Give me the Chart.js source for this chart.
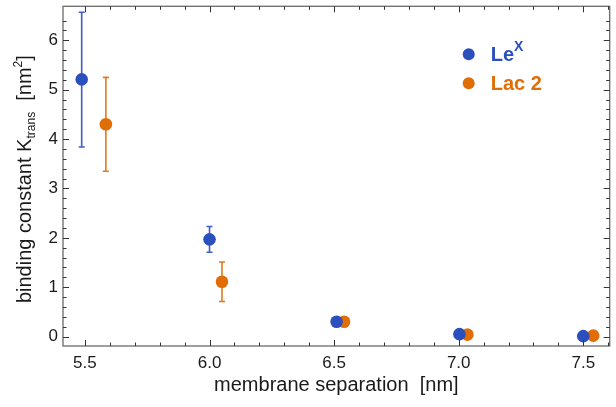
<!DOCTYPE html>
<html>
<head>
<meta charset="utf-8">
<script src="https://cdn.jsdelivr.net/npm/chart.js@4.4.1/dist/chart.umd.min.js"></script>
<style>
  html, body { margin: 0; padding: 0; background: #fff; }
  #wrap { width: 616px; height: 407px; }
</style>
</head>
<body>
<div id="wrap"><canvas id="chart" width="616" height="407"></canvas></div>
<script>
// values
const sepLeX = [5.487, 6.0, 6.51, 7.003, 7.5];
const kLeX = [5.21, 1.97, 0.30, 0.05, 0.01];
const kLeXLow = [3.84, 1.71, null, null, null];
const kLeXHigh = [6.57, 2.23, null, null, null];

const sepLac = [5.584, 6.05, 6.54, 7.035, 7.54];
const kLac = [4.30, 1.11, 0.30, 0.04, 0.02];
const kLacLow = [3.35, 0.71, null, null, null];
const kLacHigh = [5.25, 1.51, null, null, null];

const xTicks = [5.5, 6.0, 6.5, 7.0, 7.5];
const yTicks = [0, 1, 2, 3, 4, 5, 6];

const BLUE = '#2b4fbd';
const ORANGE = '#e06d05';
const FONT = '"Liberation Sans", Arial, Helvetica, sans-serif';

function pts(xs, ys) {
    return xs.map((x, i) => ({ x: x, y: ys[i] }));
}

// error bars, drawn under the points
const errorBars = {
    id: 'errorBars',
    beforeDatasetsDraw(chart) {
        const ctx = chart.ctx;
        const xs = chart.scales.x, ys = chart.scales.y;
        const sets = [
            { x: sepLeX, lo: kLeXLow, hi: kLeXHigh, color: '#3d5fc6' },
            { x: sepLac, lo: kLacLow, hi: kLacHigh, color: '#e27a1c' }
        ];
        ctx.save();
        ctx.lineWidth = 1.6;
        sets.forEach(s => {
            ctx.strokeStyle = s.color;
            s.x.forEach((xv, i) => {
                if (s.lo[i] == null) return;
                const px = xs.getPixelForValue(xv);
                const y1 = ys.getPixelForValue(s.lo[i]);
                const y2 = ys.getPixelForValue(s.hi[i]);
                ctx.beginPath();
                ctx.moveTo(px, y1); ctx.lineTo(px, y2);
                ctx.moveTo(px - 3, y1); ctx.lineTo(px + 3, y1);
                ctx.moveTo(px - 3, y2); ctx.lineTo(px + 3, y2);
                ctx.stroke();
            });
        });
        ctx.restore();
    }
};

// frame with inward ticks on all four sides
const frame = {
    id: 'frame',
    afterDatasetsDraw(chart) {
        const ctx = chart.ctx;
        const a = chart.chartArea;
        const xs = chart.scales.x, ys = chart.scales.y;
        ctx.save();
        ctx.strokeStyle = '#6a6a6a';
        ctx.lineWidth = 1.3;
        ctx.strokeRect(a.left, a.top, a.right - a.left, a.bottom - a.top);
        ctx.strokeStyle = '#333';
        ctx.lineWidth = 1;
        ctx.beginPath();
        for (let v = 5.4; v <= 7.61; v += 0.1) {
            const px = Math.round(xs.getPixelForValue(v)) + 0.5;
            if (px < a.left + 1 || px > a.right - 1) continue;
            const major = xTicks.some(t => Math.abs(t - v) < 1e-6);
            const len = major ? 6 : 3.5;
            ctx.moveTo(px, a.bottom); ctx.lineTo(px, a.bottom - len);
            ctx.moveTo(px, a.top); ctx.lineTo(px, a.top + len);
        }
        for (let v = 0; v <= 6.6; v += 0.2) {
            const py = Math.round(ys.getPixelForValue(v)) + 0.5;
            if (py < a.top + 1 || py > a.bottom - 1) continue;
            const major = yTicks.some(t => Math.abs(t - v) < 1e-6);
            const len = major ? 6 : 3.5;
            ctx.moveTo(a.left, py); ctx.lineTo(a.left + len, py);
            ctx.moveTo(a.right, py); ctx.lineTo(a.right - len, py);
        }
        ctx.stroke();
        ctx.restore();
    }
};

function drawRich(ctx, parts, x, y) {
    let total = 0;
    parts.forEach(p => {
        ctx.font = p.font;
        p.w = ctx.measureText(p.t).width;
        total += p.w;
    });
    let cx = x - total / 2;
    parts.forEach(p => {
        ctx.font = p.font;
        ctx.fillText(p.t, cx, y + (p.dy || 0));
        cx += p.w;
    });
}

// y title with sub/superscripts and the legend
const annotations = {
    id: 'annotations',
    afterDraw(chart) {
        const ctx = chart.ctx;
        const a = chart.chartArea;
        ctx.save();
        ctx.fillStyle = '#1a1a1a';
        ctx.textBaseline = 'alphabetic';
        ctx.translate(31, (a.top + a.bottom) / 2 + 3);
        ctx.rotate(-Math.PI / 2);
        drawRich(ctx, [
            { t: 'binding constant K', font: '20px ' + FONT },
            { t: 'trans', font: '12px ' + FONT, dy: 4 },
            { t: '  [nm', font: '20px ' + FONT },
            { t: '2', font: '12px ' + FONT, dy: -9 },
            { t: ']', font: '20px ' + FONT }
        ], 0, 0);
        ctx.restore();

        // legend
        const lx = a.right - 141;
        const rows = [
            { y: a.top + 48, color: BLUE, parts: [{ t: 'Le', size: 20 }, { t: 'X', size: 14, dy: -8 }] },
            { y: a.top + 77, color: ORANGE, parts: [{ t: 'Lac 2', size: 20 }] }
        ];
        ctx.save();
        rows.forEach(r => {
            ctx.fillStyle = r.color;
            ctx.beginPath();
            ctx.arc(lx, r.y, 6, 0, Math.PI * 2);
            ctx.fill();
            let tx = lx + 22;
            ctx.textBaseline = 'middle';
            r.parts.forEach(p => {
                ctx.font = 'bold ' + p.size + 'px ' + FONT;
                ctx.fillText(p.t, tx, r.y + 1 + (p.dy || 0));
                tx += ctx.measureText(p.t).width;
            });
        });
        ctx.restore();
    }
};

new Chart(document.getElementById('chart'), {
    type: 'scatter',
    data: {
        datasets: [
            {
                label: 'LeX',
                data: pts(sepLeX, kLeX),
                backgroundColor: BLUE,
                borderWidth: 0,
                pointRadius: 6.3
            },
            {
                label: 'Lac 2',
                data: pts(sepLac, kLac),
                backgroundColor: ORANGE,
                borderWidth: 0,
                pointRadius: 6.3
            }
        ]
    },
    options: {
        responsive: false,
        animation: false,
        layout: { padding: { top: 3, right: -2, left: 0, bottom: 0 } },
        plugins: {
            legend: { display: false },
            tooltip: { enabled: false }
        },
        scales: {
            x: {
                type: 'linear',
                min: 5.412,
                max: 7.606,
                afterFit: s => { s.height = 61; s.paddingLeft = 0; s.paddingRight = 0; },
                afterBuildTicks: s => { s.ticks = xTicks.map(v => ({ value: v })); },
                grid: { display: false, drawTicks: false },
                border: { display: false },
                ticks: {
                    color: '#1a1a1a',
                    padding: 7,
                    font: { family: FONT, size: 17 },
                    callback: v => v.toFixed(1)
                },
                title: {
                    display: true,
                    text: 'membrane separation  [nm]',
                    color: '#1a1a1a',
                    font: { family: FONT, size: 20 },
                    padding: { top: 3, bottom: 10 }
                }
            },
            y: {
                min: -0.19,
                max: 6.69,
                afterFit: s => { s.width = 63; s.paddingTop = 0; s.paddingBottom = 0; },
                afterBuildTicks: s => { s.ticks = yTicks.map(v => ({ value: v })); },
                grid: { display: false, drawTicks: false },
                border: { display: false },
                ticks: {
                    color: '#1a1a1a',
                    padding: 5,
                    font: { family: FONT, size: 17 },
                    callback: v => String(v)
                }
            }
        }
    },
    plugins: [errorBars, frame, annotations]
});
</script>
</body>
</html>
